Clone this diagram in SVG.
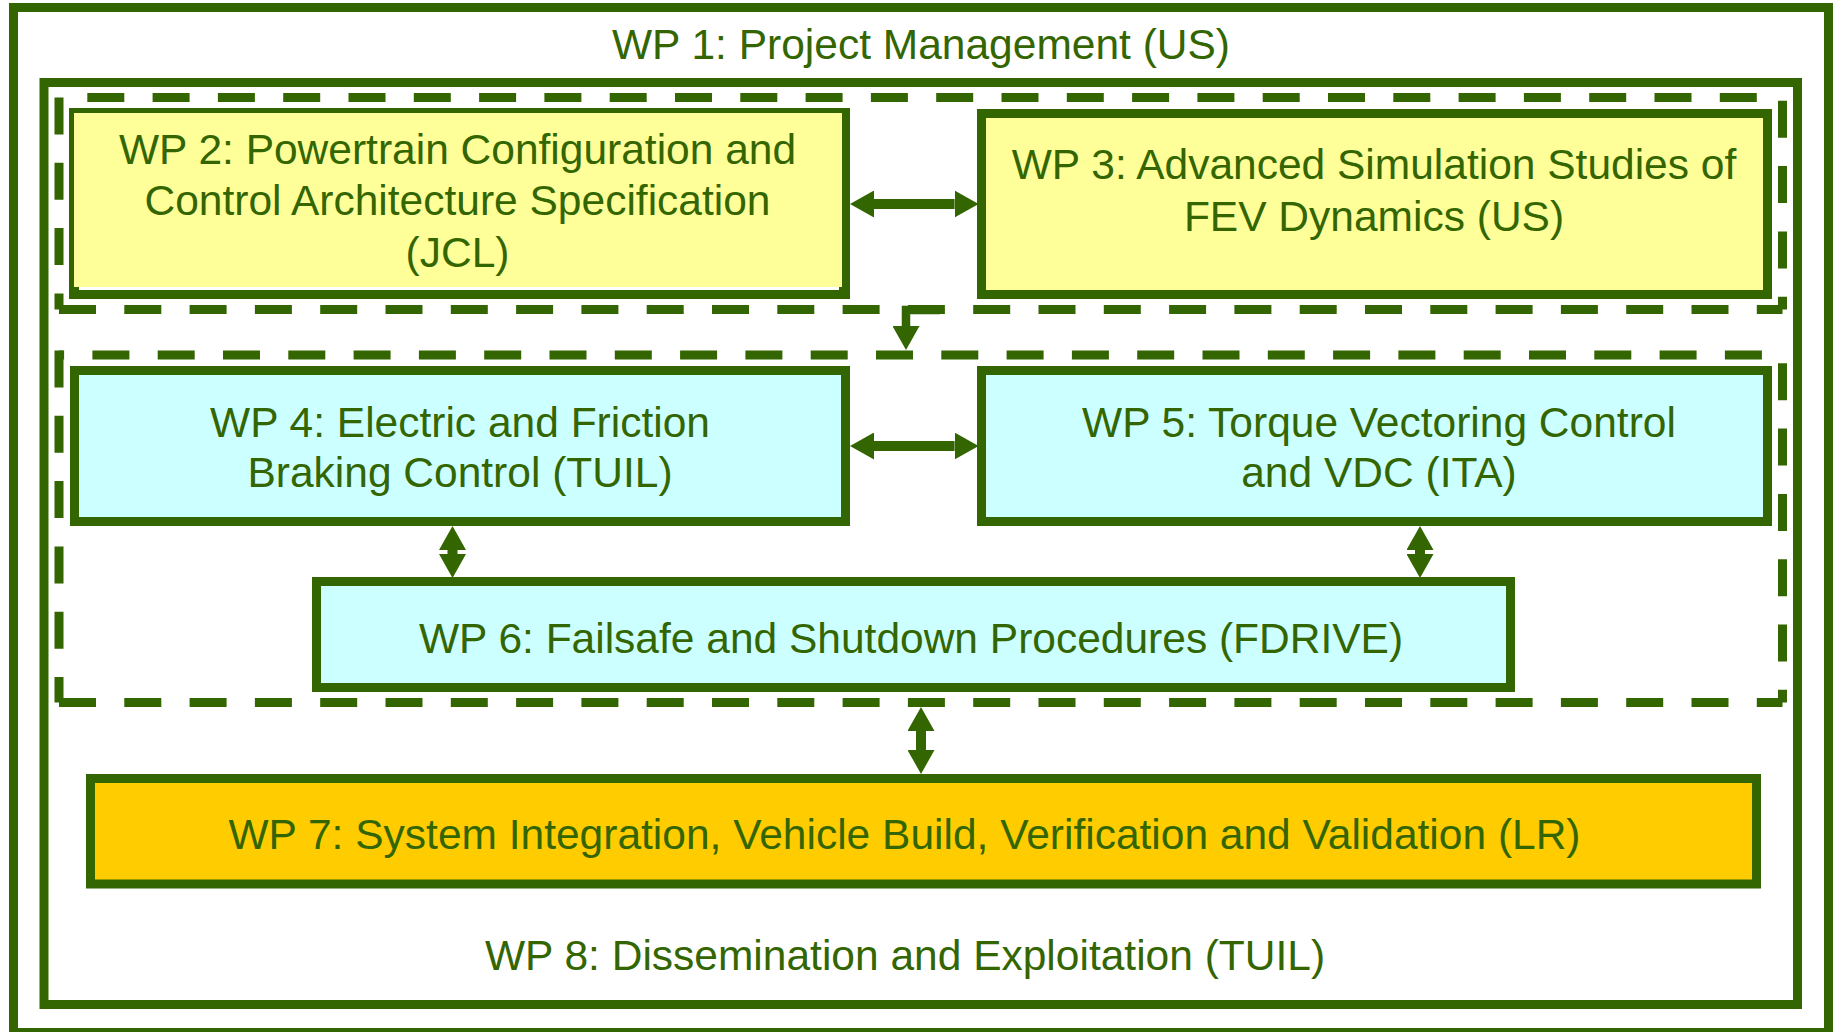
<svg xmlns="http://www.w3.org/2000/svg" width="1837" height="1032" viewBox="0 0 1837 1032">
<style>
  .frame{fill:none;stroke:#336600;stroke-width:9}
  .dash{fill:none;stroke:#336600;stroke-width:9;stroke-dasharray:37 28.3}
  .box{stroke:#336600;stroke-width:9}
  .yel{fill:#FFFF99}
  .cyan{fill:#CCFFFF}
  .gold{fill:#FFCC00}
  .conn{fill:none;stroke:#336600;stroke-width:10}
  text{font-family:"Liberation Sans",Arial,sans-serif;font-size:42.5px;fill:#336600;text-anchor:middle}
</style>
<defs>
  <marker id="head" markerUnits="userSpaceOnUse" markerWidth="24" markerHeight="27" viewBox="0 0 24 27" refX="0" refY="13.5" orient="auto">
    <path d="M0,0L24,13.5L0,27z" fill="#336600"/>
  </marker>
  <marker id="tail" markerUnits="userSpaceOnUse" markerWidth="24" markerHeight="27" viewBox="0 0 24 27" refX="24" refY="13.5" orient="auto">
    <path d="M24,0L0,13.5L24,27z" fill="#336600"/>
  </marker>
</defs>
<rect width="1837" height="1032" fill="#ffffff"/>

<g id="wp1">
  <rect class="frame" x="13.5" y="7.5" width="1815" height="1025"/>
  <text x="921" y="59">WP 1: Project Management (US)</text>
</g>

<g id="wp8">
  <rect class="frame" x="44" y="82.5" width="1753.5" height="922"/>
  <text x="905" y="970">WP 8: Dissemination and Exploitation (TUIL)</text>
</g>

<g id="group-wp2-wp3">
  <line class="dash" x1="59" y1="97.5" x2="1782.5" y2="97.5" stroke-dashoffset="37"/>
  <line class="dash" x1="1782.5" y1="97.5" x2="1782.5" y2="309.5" stroke-dashoffset="62"/>
  <line class="dash" x1="59" y1="309.5" x2="1782.5" y2="309.5"/>
  <line class="dash" x1="59" y1="97.5" x2="59" y2="309.5"/>
</g>

<g id="group-wp4-wp6">
  <line class="dash" x1="59" y1="355" x2="1782.5" y2="355" stroke-dashoffset="31.9"/>
  <line class="dash" x1="1782.5" y1="355" x2="1782.5" y2="702.5" stroke-dashoffset="57"/>
  <line class="dash" x1="59" y1="702.5" x2="1782.5" y2="702.5"/>
  <line class="dash" x1="59" y1="350.5" x2="59" y2="702.5"/>
</g>

<g id="wp2">
  <rect x="69" y="108" width="781" height="191" fill="#336600"/>
  <rect class="yel" x="74" y="113" width="768" height="174"/>
  <rect x="79" y="287" width="760" height="3" fill="#ffffff"/>
  <text x="457.5" y="164">WP 2: Powertrain Configuration and</text>
  <text x="457.5" y="215">Control Architecture Specification</text>
  <text x="457.5" y="267">(JCL)</text>
</g>

<g id="wp3">
  <rect class="box yel" x="981.5" y="113.5" width="786" height="181"/>
  <text x="1374" y="179">WP 3: Advanced Simulation Studies of</text>
  <text x="1374" y="231">FEV Dynamics (US)</text>
</g>

<g id="wp4">
  <rect class="box cyan" x="74.5" y="370.5" width="771" height="151"/>
  <text x="460" y="437">WP 4: Electric and Friction</text>
  <text x="460" y="487">Braking Control (TUIL)</text>
</g>

<g id="wp5">
  <rect class="box cyan" x="981.5" y="370.5" width="786" height="151"/>
  <text x="1379" y="437">WP 5: Torque Vectoring Control</text>
  <text x="1379" y="487">and VDC (ITA)</text>
</g>

<g id="wp6">
  <rect class="box cyan" x="316.5" y="581.5" width="1194" height="106"/>
  <text x="911" y="653">WP 6: Failsafe and Shutdown Procedures (FDRIVE)</text>
</g>

<g id="wp7">
  <rect class="box gold" x="90.5" y="778.5" width="1666" height="105.5"/>
  <text x="904.5" y="849">WP 7: System Integration, Vehicle Build, Verification and Validation (LR)</text>
</g>

<g id="connectors">
  <line class="conn" x1="874" y1="204" x2="954.6" y2="204" marker-start="url(#tail)" marker-end="url(#head)"/>
  <line class="conn" x1="874" y1="446" x2="954.6" y2="446" marker-start="url(#tail)" marker-end="url(#head)"/>
  <line class="conn" x1="452.5" y1="550" x2="452.5" y2="554" marker-start="url(#tail)" marker-end="url(#head)"/>
  <line class="conn" x1="1420" y1="550" x2="1420" y2="554" marker-start="url(#tail)" marker-end="url(#head)"/>
  <line class="conn" x1="921" y1="731" x2="921" y2="750" marker-start="url(#tail)" marker-end="url(#head)"/>
  <path class="conn" style="stroke-width:8.5" d="M940,310H906V326" marker-end="url(#head)"/>
</g>
</svg>
